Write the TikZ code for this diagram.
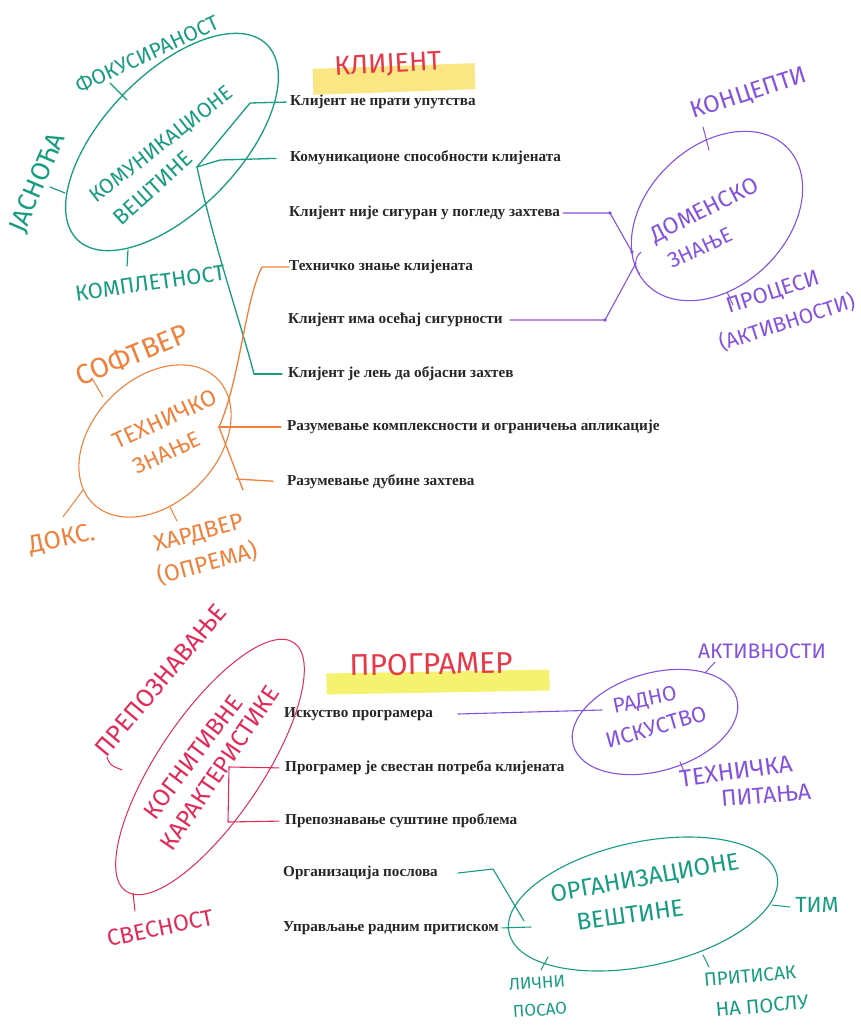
\documentclass[tikz,border=0pt]{standalone}
\usepackage{fontspec}
\setmainfont{Liberation Serif}
\newfontfamily\handf{Fira Sans}
\usetikzlibrary{shapes.geometric}
\definecolor{tealc}{RGB}{22,156,128}
\definecolor{orangec}{RGB}{240,128,58}
\definecolor{purplec}{RGB}{132,82,222}
\definecolor{redc}{RGB}{226,42,88}
\definecolor{titlered}{RGB}{232,56,72}
\definecolor{hlone}{RGB}{250,230,130}
\definecolor{hltwo}{RGB}{244,242,110}
\tikzset{
  ptxt/.style={anchor=west, inner sep=0pt, font=\bfseries\fontsize{15.2}{17}\selectfont, text=black!85},
  hw/.style={inner sep=0pt, font=\handf\fontsize{#1}{#1}\selectfont},
  hw/.default=18,
  oval/.style={ellipse, draw, line width=1.3pt, inner sep=0pt},
  conn/.style={line width=1.3pt, line join=round, line cap=round},
  tick/.style={line width=1.2pt, line cap=round},
  hlbox/.style={inner sep=0pt, draw=none}
}
\begin{document}
\begin{tikzpicture}[x=1pt,y=-1pt]
\useasboundingbox (0,0) rectangle (861,1030);

% ---------------- top: client ----------------
\node[hlbox, fill=hlone, minimum width=162pt, minimum height=26pt, rotate=2] (hla) at (394,79) {};
\node[hw=27, text=titlered, rotate=3] (tclient) at (388,65) {КЛИЈЕНТ};

\node[ptxt] (p1) at (290,102) {Клијент не прати упутства};
\node[ptxt] (p2) at (290,158) {Комуникационе способности клијената};
\node[ptxt] (p3) at (289,213) {Клијент није сигуран у погледу захтева};
\node[ptxt] (p4) at (289,267) {Техничко знање клијената};
\node[ptxt] (p5) at (288,320) {Клијент има осећај сигурности};
\node[ptxt] (p6) at (288,374) {Клијент је лењ да објасни захтев};
\node[ptxt] (p7) at (287,427) {Разумевање комплексности и ограничења апликације};
\node[ptxt] (p8) at (287,482) {Разумевање дубине захтева};

% teal: communication skills
\node[oval, draw=tealc, minimum width=272pt, minimum height=136pt, rotate=46] (kom) at (172,142) {};
\node[hw=21, text=tealc, rotate=38] (komA) at (162,145) {КОМУНИКАЦИОНЕ};
\node[hw=22, text=tealc, rotate=42] (komB) at (153,188) {ВЕШТИНЕ};
\node[hw=21, text=tealc, rotate=25] (fok) at (147,54) {ФОКУСИРАНОСТ};
\node[hw=26, text=tealc, rotate=67] (jas) at (38,183) {ЈАСНОЋА};
\node[hw=22, text=tealc, rotate=8] (kpl) at (150,283) {КОМПЛЕТНОСТ};
\draw[tick, tealc] (110,83) -- (127,100);
\draw[tick, tealc] (50,187) -- (65,193);
\draw[tick, tealc] (128,250) -- (127,266);

\coordinate (tj) at (197,167);
\coordinate (tja) at (250,103);
\coordinate (tjb) at (220,160);
\coordinate (tjc) at (254,374);
\draw[conn, tealc, shorten >=4pt] (tj) -- (tja) -- (p1.west);
\draw[conn, tealc, shorten >=14pt] (tj) -- (tjb) -- (p2.west);
\draw[conn, tealc] (tj) .. controls (215,250) and (240,320) .. (tjc);
\draw[conn, tealc, shorten >=6pt] (tjc) -- (p6.west);

% purple: domain knowledge
\node[oval, draw=purplec, line width=1.1pt, minimum width=196pt, minimum height=140pt, rotate=44] (dom) at (717,216) {};
\node[hw=23, text=purplec, rotate=27] (domA) at (705,211) {ДОМЕНСКО};
\node[hw=21, text=purplec, rotate=25] (domB) at (700,248) {ЗНАЊЕ};
\node[hw=24, text=purplec, rotate=18] (konc) at (749,94) {КОНЦЕПТИ};
\node[hw=22, text=purplec, rotate=18] (proc) at (773,293) {ПРОЦЕСИ};
\node[hw=21, text=purplec, rotate=18] (akt) at (787,322) {(АКТИВНОСТИ)};
\draw[tick, purplec, line width=1pt] (703,127) -- (709,150);
\draw[tick, purplec, line width=1pt] (727,292) -- (733,305);
\coordinate (da) at (610,213);
\coordinate (db) at (632,252);
\coordinate (dc) at (605,320);
\coordinate (dd) at (636,263);
\coordinate (ds) at (510,320);
\draw[conn, purplec, line width=1.1pt, shorten <=3pt] (p3.east) -- (da) -- (db);
\draw[conn, purplec, line width=1.1pt] (ds) -- (dc) -- (dd);
\draw[purplec, line width=1pt] (641,252) .. controls (634,258) and (634,268) .. (640,274);
\foreach \c in {da,db,dc} \fill[purplec] (\c) circle (1.8pt);

% orange: technical knowledge
\node[oval, draw=orangec, line width=1.1pt, minimum width=176pt, minimum height=124pt, rotate=45] (teh) at (155,441) {};
\node[hw=23, text=orangec, rotate=25] (tehA) at (165,419) {ТЕХНИЧКО};
\node[hw=22, text=orangec, rotate=25] (tehB) at (167,453) {ЗНАЊЕ};
\node[hw=28, text=orangec, rotate=22] (soft) at (132,355) {СОФТВЕР};
\node[hw=25, text=orangec, rotate=12] (doks) at (62,540) {ДОКС.};
\node[hw=23, text=orangec, rotate=15] (hard) at (199,534) {ХАРДВЕР};
\node[hw=23, text=orangec, rotate=15] (opr) at (207,563) {(ОПРЕМА)};
\draw[tick, orangec, line width=1pt] (93,380) -- (103,397);
\draw[tick, orangec, line width=1pt] (83,490) -- (63,517);
\draw[tick, orangec, line width=1pt] (170,507) -- (177,521);
\coordinate (oj) at (219,427);
\coordinate (oa) at (262,267);
\coordinate (ob) at (243,490);
\coordinate (oc) at (236,479);
\draw[conn, orangec] (oj) .. controls (240,380) and (245,300) .. (oa) -- (p4.west);
\draw[conn, orangec, shorten >=6pt] (oj) -- (p7.west);
\draw[conn, orangec] (oj) -- (ob);
\draw[conn, orangec, shorten >=14pt] (oc) -- (p8.west);

% ---------------- bottom: programmer ----------------
\node[hlbox, fill=hltwo, minimum width=223pt, minimum height=21pt, rotate=1] (hlb) at (438,682) {};
\node[hw=30, text=titlered, rotate=1] (tprog) at (431,664) {ПРОГРАМЕР};

\node[ptxt] (q1) at (284,714) {Искуство програмера};
\node[ptxt] (q2) at (285,768) {Програмер је свестан потреба клијената};
\node[ptxt] (q3) at (285,821) {Препознавање суштине проблема};
\node[ptxt] (q4) at (283,873) {Организација послова};
\node[ptxt] (q5) at (283,928) {Управљање радним притиском};

% red: cognitive characteristics
\node[oval, draw=redc, line width=1pt, minimum width=300pt, minimum height=104pt, rotate=56] (kog) at (210,767) {};
\node[hw=24, text=redc, rotate=53] (kogA) at (193,757) {КОГНИТИВНЕ};
\node[hw=24, text=redc, rotate=56] (kogB) at (220,768) {КАРАКТЕРИСТИКЕ};
\node[hw=25, text=redc, rotate=50] (prep) at (161,680) {ПРЕПОЗНАВАЊЕ};
\node[hw=23, text=redc, rotate=12] (svest) at (160,928) {СВЕСНОСТ};
\draw[tick, redc, line width=1pt] (107,757) .. controls (110,765) .. (122,770);
\draw[tick, redc, line width=1pt] (133,893) -- (135,911);
\coordinate (rj) at (229,767);
\coordinate (rb) at (228,822);
\draw[conn, redc, line width=1.1pt, shorten >=6pt] (rj) -- (q2.west);
\draw[conn, redc, line width=1.1pt, shorten >=6pt] (rj) -- (rb) -- (q3.west);

% purple: work experience
\node[oval, draw=purplec, line width=1.1pt, minimum width=170pt, minimum height=98pt, rotate=16] (rad) at (655,722) {};
\node[hw=21, text=purplec, rotate=12] (radA) at (645,701) {РАДНО};
\node[hw=22, text=purplec, rotate=16] (radB) at (656,727) {ИСКУСТВО};
\node[hw=21, text=purplec, rotate=0] (akt2) at (762,651) {АКТИВНОСТИ};
\node[hw=24, text=purplec, rotate=8] (tpa) at (736,771) {ТЕХНИЧКА};
\node[hw=23, text=purplec, rotate=5] (tpb) at (766,795) {ПИТАЊА};
\draw[tick, purplec, line width=1pt] (715,662) -- (705,673);
\draw[tick, purplec, line width=1pt] (680,762) -- (685,774);
\coordinate (ra) at (458,714);
\coordinate (rr) at (602,710);
\draw[conn, purplec, line width=1.1pt] (ra) -- (rr);

% teal: organizational skills
\node[oval, draw=tealc, line width=1.1pt, minimum width=274pt, minimum height=124pt, rotate=12] (org) at (643,904) {};
\node[hw=24, text=tealc, rotate=10] (orgA) at (645,879) {ОРГАНИЗАЦИОНЕ};
\node[hw=24, text=tealc, rotate=8] (orgB) at (630,915) {ВЕШТИНЕ};
\node[hw=22, text=tealc] (tim) at (817,905) {ТИМ};
\node[hw=17, text=tealc, rotate=4] (lic) at (537,983) {ЛИЧНИ};
\node[hw=17, text=tealc, rotate=4] (pos) at (540,1010) {ПОСАО};
\node[hw=19, text=tealc, rotate=5] (prt) at (750,976) {ПРИТИСАК};
\node[hw=20, text=tealc, rotate=5] (nap) at (762,1006) {НА ПОСЛУ};
\draw[tick, tealc, line width=1pt] (772,905) -- (790,907);
\draw[tick, tealc, line width=1pt] (548,957) -- (541,970);
\draw[tick, tealc, line width=1pt] (703,955) -- (709,967);
\coordinate (oa1) at (458,873);
\coordinate (oa2) at (493,869);
\coordinate (oa3) at (524,921);
\coordinate (ob1) at (531,927);
\draw[conn, tealc, line width=1.1pt] (oa1) -- (oa2) -- (oa3);
\draw[conn, tealc, line width=1.1pt, shorten <=3pt] (q5.east) -- (ob1);
\end{tikzpicture}
\end{document}
